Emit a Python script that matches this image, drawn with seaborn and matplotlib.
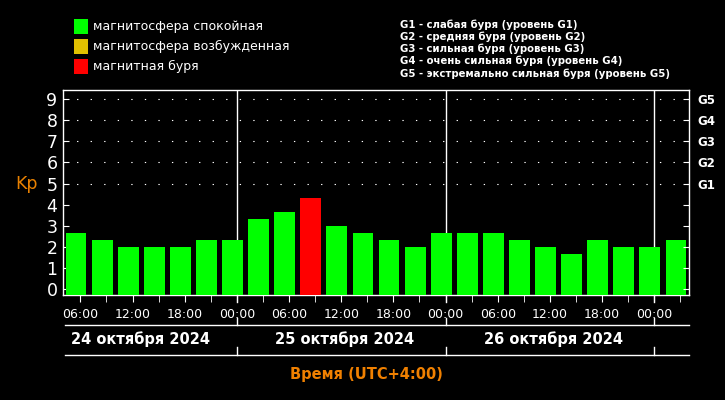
import numpy as np
import pandas as pd
import matplotlib
matplotlib.use("Agg")
import matplotlib.pyplot as plt
import seaborn as sns
from matplotlib.patches import Rectangle
from matplotlib.lines import Line2D
import matplotlib.transforms as mtransforms

# ---------------- data ----------------
# mid-points of the 3-hour Kp intervals, hours from 24 Oct 2024 00:00 (UTC+4)
hours = [5.5, 8.5, 11.5, 14.5, 17.5, 20.5, 23.5, 26.5, 29.5, 32.5, 35.5, 38.5,
         41.5, 44.5, 47.5, 50.5, 53.5, 56.5, 59.5, 62.5, 65.5, 68.5, 71.5, 74.5]
kp = [2.67, 2.33, 2.0, 2.0, 2.0, 2.33, 2.33, 3.33, 3.67, 4.33, 3.0, 2.67,
      2.33, 2.0, 2.67, 2.67, 2.67, 2.33, 2.0, 1.67, 2.33, 2.0, 2.0, 2.33]
status = ["storm" if v >= 4.3 else "quiet" for v in kp]

xtick_hours = [6, 12, 18, 24, 30, 36, 42, 48, 54, 60, 66, 72]
xtick_labels = ["06:00", "12:00", "18:00", "00:00", "06:00", "12:00",
                "18:00", "00:00", "06:00", "12:00", "18:00", "00:00"]
day_labels = ["24 октября 2024", "25 октября 2024", "26 октября 2024"]
day_label_hours = [12.9, 36.4, 60.4]
midnights = [24, 48, 72]
g_labels = ["G1", "G2", "G3", "G4", "G5"]
legend_labels = ["магнитосфера спокойная", "магнитосфера возбужденная", "магнитная буря"]
legend_colors = ["#00FF00", "#E0C000", "#FF0000"]
g_texts = ["G1 - слабая буря (уровень G1)",
           "G2 - средняя буря (уровень G2)",
           "G3 - сильная буря (уровень G3)",
           "G4 - очень сильная буря (уровень G4)",
           "G5 - экстремально сильная буря (уровень G5)"]

df = pd.DataFrame({"hour": hours, "kp": kp, "status": status})

# ---------------- figure ----------------
W, H = 725, 400
fig = plt.figure(figsize=(W / 100, H / 100), dpi=100, facecolor="black")
ax_l, ax_r, ax_t, ax_b = 63, 689, 90, 295
ax = fig.add_axes([ax_l / W, 1 - ax_b / H, (ax_r - ax_l) / W, (ax_b - ax_t) / H])
ax.set_facecolor("black")

YMIN, YMAX = -0.28, 9.43
XMIN, XMAX = 4.0, 76.0

sns.barplot(data=df, x="hour", y="kp", hue="status", native_scale=True,
            palette={"quiet": "#00FF00", "storm": "#FF0000"}, width=0.8,
            saturation=1, dodge=False, legend=False, ax=ax, linewidth=0, zorder=3)
# bars start at the bottom edge of the plot frame
for p in ax.patches:
    top = p.get_y() + p.get_height()
    p.set_y(YMIN)
    p.set_height(top - YMIN)

ax.set_xlim(XMIN, XMAX)
ax.set_ylim(YMIN, YMAX)

# dotted horizontal grid above the bars
for yv in [5, 6, 7, 8, 9]:
    ax.axhline(yv, color="white", lw=0.8, linestyle=(0, (1.2, 11)), zorder=1)
for m in midnights:
    ax.axvline(m, color="white", lw=1, zorder=1)

for s in ax.spines.values():
    s.set_color("white")
    s.set_linewidth(1)

ax.set_yticks(range(10))
ax.set_yticklabels([str(i) for i in range(10)])
ax.tick_params(axis="y", direction="in", length=4, color="white",
               labelcolor="white", labelsize=12.5, pad=4)
ax.set_xticks(list(range(6, 76, 3)), minor=True)
ax.set_xticks(xtick_hours)
ax.set_xticklabels(xtick_labels)
ax.tick_params(axis="x", which="both", direction="out", length=5, color="white",
               labelcolor="white", labelsize=9, pad=4)
ax.set_xlabel("")
ax.set_ylabel("")

ax2 = ax.twinx()
ax2.set_ylim(YMIN, YMAX)
ax2.set_yticks(range(10))
ax2.set_yticklabels([""] * 5 + g_labels)
ax2.tick_params(axis="y", direction="in", length=4, color="white",
                labelcolor="white", labelsize=8.5, pad=6)
for t in ax2.get_yticklabels():
    t.set_fontweight("bold")
for s in ax2.spines.values():
    s.set_visible(False)

# Kp label
ax.text(27 / W, 5.0, "Kp", transform=mtransforms.blended_transform_factory(fig.transFigure, ax.transData),
        color="#E88000", fontsize=12.5, ha="center", va="center")

# ---------------- lower date tiers ----------------
bt = mtransforms.blended_transform_factory(ax.transData, fig.transFigure)
def fy(px):
    return 1 - px / H

for ypx in [325, 355]:
    fig.add_artist(Line2D([XMIN + 0.2, XMAX], [fy(ypx), fy(ypx)], transform=bt,
                          color="white", lw=1))
for m in midnights:
    fig.add_artist(Line2D([m, m], [fy(295), fy(302)], transform=bt, color="white", lw=1))
    fig.add_artist(Line2D([m, m], [fy(318), fy(325)], transform=bt, color="white", lw=1))
    fig.add_artist(Line2D([m, m], [fy(347), fy(355)], transform=bt, color="white", lw=1))
for lab, hx in zip(day_labels, day_label_hours):
    fig.text(hx, fy(339), lab, transform=bt, color="white", fontsize=10.5,
             fontweight="bold", ha="center", va="center")
fig.text(366 / W, fy(375), "Время (UTC+4:00)", color="#F08000", fontsize=10.5,
         fontweight="bold", ha="center", va="center")

# ---------------- legend ----------------
for i, (lab, col) in enumerate(zip(legend_labels, legend_colors)):
    ytop = 19 + 20 * i
    fig.add_artist(Rectangle((74 / W, fy(ytop + 15)), 14 / W, 15 / H,
                             transform=fig.transFigure, facecolor=col, edgecolor="none"))
    fig.text(93 / W, fy(ytop + 7.5), lab, color="white", fontsize=9,
             ha="left", va="center")
for i, lab in enumerate(g_texts):
    fig.text(400 / W, fy(24.5 + 12.2 * i), lab, color="white", fontsize=7.3,
             fontweight="bold", ha="left", va="center")

fig.savefig("out.png", dpi=100, facecolor="black")
